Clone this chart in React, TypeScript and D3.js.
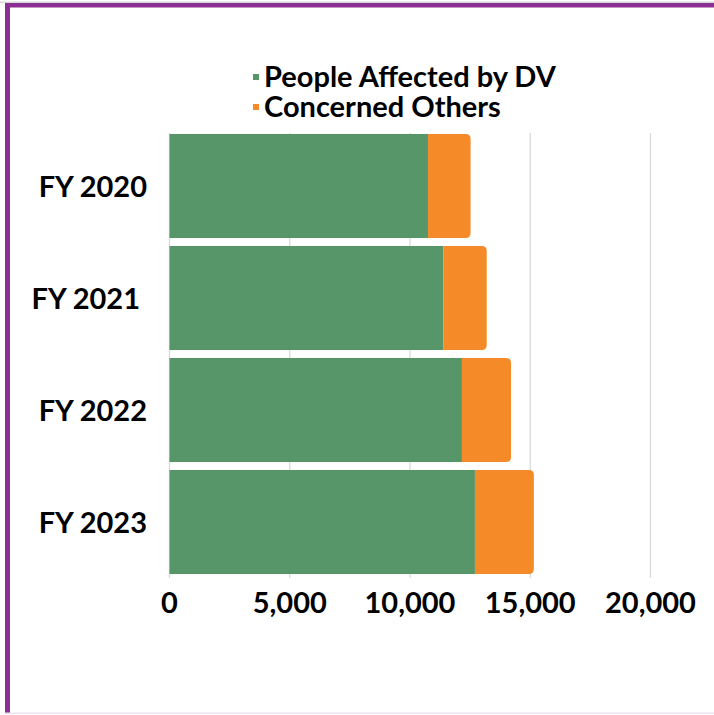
import React from "react";
import * as d3 from "d3";

const categories = ["FY 2020", "FY 2021 ", "FY 2022", "FY 2023"];
const peopleAffected = [10750, 11390, 12160, 12700];
const concernedOthers = [1770, 1800, 2040, 2450];
const xTicks = [0, 5000, 10000, 15000, 20000];
const seriesNames = ["People Affected by DV", "Concerned Others"];
const seriesColors = ["#579669", "#F58A28"];

const W = 714;
const H = 715;

function roundedRight(x: number, y: number, w: number, h: number, r: number) {
  const rr = Math.min(r, w / 2, h / 2);
  return `M${x},${y}H${x + w - rr}Q${x + w},${y} ${x + w},${y + rr}V${y + h - rr}Q${x + w},${y + h} ${x + w - rr},${y + h}H${x}Z`;
}

export default function App() {
  const x = d3.scaleLinear().domain([0, 20000]).range([169.5, 650.5]);
  const y = d3.scaleBand<string>().domain(categories).range([130, 578]).paddingInner(0.071).paddingOuter(0.0355);
  const font = "Lato, 'Noto Sans', sans-serif";
  return (
    <svg width={W} height={H} style={{ position: "absolute", left: 0, top: 0 }} fontFamily={font}>
      <rect x={0} y={0} width={W} height={H} fill="#fff" />
      {/* frame */}
      <rect x={0} y={1.5} width={W} height={1.5} fill="#d8d8d8" />
      <rect x={5} y={3} width={W - 5} height={4.5} fill="#8B2F92" />
      <rect x={5} y={3} width={5} height={710} fill="#8B2F92" />
      <rect x={5} y={712.5} width={W - 5} height={1.5} fill="#ECE4F1" />

      {/* gridlines */}
      {xTicks.map((t) => (
        <line key={t} x1={x(t)} x2={x(t)} y1={133} y2={578} stroke="#D9D9D9" strokeWidth={1.3} />
      ))}

      {/* bars */}
      {categories.map((c, i) => {
        const y0 = y(c)!;
        const h = y.bandwidth();
        const g = peopleAffected[i];
        const o = concernedOthers[i];
        return (
          <g key={c}>
            <rect x={x(0)} y={y0} width={x(g) - x(0)} height={h} fill={seriesColors[0]} />
            <path d={roundedRight(x(g), y0, x(g + o) - x(g), h, 5)} fill={seriesColors[1]} />
          </g>
        );
      })}

      {/* category labels */}
      {categories.map((c) => (
        <text
          key={c}
          x={147}
          y={y(c)! + y.bandwidth() / 2 + 11}
          textAnchor="end"
          fontSize={29}
          fontWeight={700}
          fill="#000"
          style={{ whiteSpace: "pre" }}
        >
          {c}
        </text>
      ))}

      {/* x tick labels */}
      {xTicks.map((t) => (
        <text key={t} x={x(t)} y={613} textAnchor="middle" fontSize={29} fontWeight={700} fill="#000">
          {d3.format(",")(t)}
        </text>
      ))}

      {/* legend */}
      {seriesNames.map((n, i) => (
        <g key={n}>
          <rect x={253} y={74 + i * 30} width={6} height={6} fill={seriesColors[i]} />
          <text x={264} y={87 + i * 30} fontSize={29} fontWeight={700} fill="#000">
            {n}
          </text>
        </g>
      ))}
    </svg>
  );
}
